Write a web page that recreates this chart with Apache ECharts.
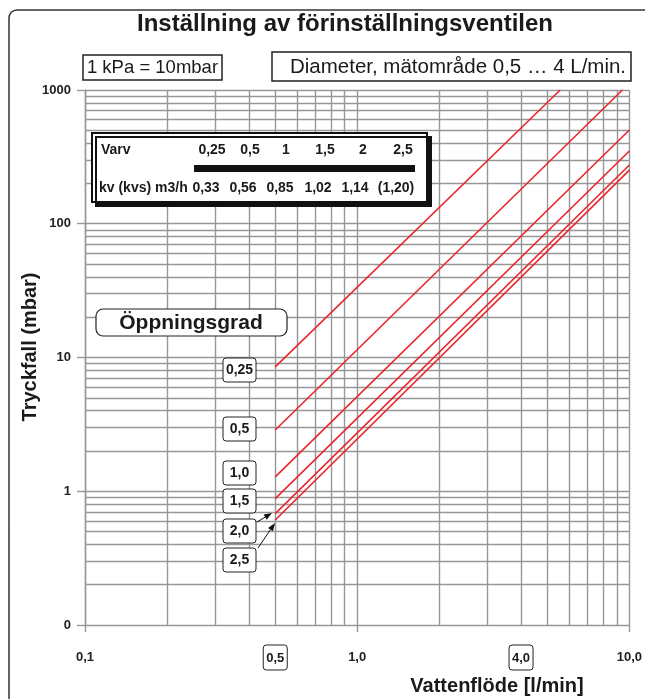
<!DOCTYPE html>
<html><head><meta charset="utf-8">
<script src="https://cdn.jsdelivr.net/npm/echarts/dist/echarts.min.js"></script>
<style>html,body{margin:0;padding:0;background:#fff}#c{width:645px;height:699px}</style>
</head><body><div id="c"></div>
<script>
// ---- data ----
const openingLabels = ['0,25', '0,5', '1,0', '1,5', '2,0', '2,5'];
const varvLabels = ['0,25', '0,5', '1', '1,5', '2', '2,5'];
const kvLabels = ['0,33', '0,56', '0,85', '1,02', '1,14', '(1,20)'];
// each curve: [flow l/min, pressure drop mbar] at start and end
const curve025 = [[0.5, 8.5], [5.57, 1000]];
const curve05 = [[0.5, 2.87], [9.43, 1000]];
const curve10 = [[0.5, 1.28], [10, 502]];
const curve15 = [[0.5, 0.88], [10, 350]];
const curve20 = [[0.5, 0.68], [10, 275]];
const curve25 = [[0.5, 0.61], [10, 252]];
const curves = [curve025, curve05, curve10, curve15, curve20, curve25];
const xTickValues = [0.1, 1, 10];
const xTickTexts = ['0,1', '1,0', '10,0'];
const yTickValues = [0.1, 1, 10, 100, 1000];
const yTickTexts = ['0', '1', '10', '100', '1000'];
const boxedFlows = [0.5, 4.0];
const boxedFlowTexts = ['0,5', '4,0'];
const gridFlows = [0.1,0.2,0.3,0.4,0.5,0.6,0.7,0.8,0.9,1,2,3,4,5,6,7,8,9,10];
const gridPressures = [0.2,0.3,0.4,0.5,0.6,0.7,0.8,0.9,1,2,3,4,5,6,7,8,9,10,20,30,40,50,60,70,80,90,100,200,300,400,500,600,700,800,900,1000];

const FONT = "'Liberation Sans Narrow','Arial Narrow','Liberation Sans',Arial,sans-serif";
const GRID = '#979797';
const RED = '#e8262c';

function nearestText(v, vals, texts) {
  let best = 0, bd = Infinity;
  vals.forEach((t, i) => { const d = Math.abs(Math.log10(v) - Math.log10(t)); if (d < bd) { bd = d; best = i; } });
  return bd < 0.05 ? texts[best] : '';
}

const chart = echarts.init(document.getElementById('c'), null, {renderer: 'canvas'});

const series = curves.map((c, i) => ({
  type: 'line', name: openingLabels[i], data: c, showSymbol: false, silent: true, z: 5,
  lineStyle: {color: RED, width: 1.6}, itemStyle: {color: RED}
}));
series.push({
  type: 'line', data: [], silent: true, z: 1,
  markLine: {
    silent: true, symbol: 'none', animation: false,
    label: {show: false},
    lineStyle: {color: GRID, width: 1.4, type: 'solid'},
    data: gridFlows.map(v => ({xAxis: v})).concat(gridPressures.map(v => ({yAxis: v})))
  }
});

chart.setOption({
  animation: false,
  backgroundColor: '#fff',
  grid: {left: 85, right: 15, top: 90, bottom: 74},
  xAxis: {
    type: 'log', min: 0.1, max: 10, logBase: 10,
    axisLine: {show: true, lineStyle: {color: GRID, width: 1.4}},
    axisTick: {show: true, length: 7, customValues: xTickValues, lineStyle: {color: GRID, width: 1.4}},
    splitLine: {show: false},
    minorSplitLine: {show: false}, minorTick: {show: false},
    axisLabel: {margin: 26, customValues: xTickValues, fontFamily: FONT, fontWeight: 'bold', fontSize: 13, color: '#222',
      formatter: v => nearestText(v, xTickValues, xTickTexts)}
  },
  yAxis: {
    type: 'log', min: 0.1, max: 1000, logBase: 10,
    axisLine: {show: true, lineStyle: {color: GRID, width: 1.4}},
    axisTick: {show: true, length: 8, customValues: yTickValues, lineStyle: {color: GRID, width: 1.4}},
    splitLine: {show: false},
    minorSplitLine: {show: false}, minorTick: {show: false},
    axisLabel: {margin: 14, customValues: yTickValues, fontFamily: FONT, fontWeight: 'bold', fontSize: 13, color: '#222',
      formatter: v => nearestText(v, yTickValues, yTickTexts)}
  },
  series: series
});

// ---- annotations ----
const g = [];
function txt(x, y, text, size, weight, align, extra) {
  return Object.assign({type: 'text', z: 120, style: {x: x, y: y, text: text,
    font: (weight || 'normal') + ' ' + size + 'px ' + FONT, fill: '#1a1a1a',
    textAlign: align || 'center', textVerticalAlign: 'middle'}}, extra || {});
}
function box(x, y, w, h, r, lw, extraStyle) {
  return {type: 'rect', z: 110, shape: {x: x, y: y, width: w, height: h, r: r},
    style: Object.assign({fill: '#fff', stroke: '#222', lineWidth: lw}, extraStyle || {})};
}
function arrow(x1, y1, x2, y2) {
  const a = Math.atan2(y2 - y1, x2 - x1), L = 8, W = 3;
  const bx = x2 - L * Math.cos(a), by = y2 - L * Math.sin(a);
  return [
    {type: 'line', z: 115, shape: {x1: x1, y1: y1, x2: bx, y2: by}, style: {stroke: '#111', lineWidth: 1}},
    {type: 'polygon', z: 115, shape: {points: [[x2, y2], [bx - W * Math.sin(a), by + W * Math.cos(a)], [bx + W * Math.sin(a), by - W * Math.cos(a)]]}, style: {fill: '#111'}}
  ];
}

// outer frame
g.push({type: 'rect', z: 100, shape: {x: 9, y: 10, width: 680, height: 740, r: 8}, style: {fill: null, stroke: '#333', lineWidth: 1.5}});
// title
g.push(txt(345, 24, 'Inställning av förinställningsventilen', 24, 'bold'));
// top boxes
g.push(box(83, 55, 139, 25, 0, 1.5));
g.push(txt(152.5, 68, '1 kPa = 10mbar', 18.5, 'normal'));
g.push(box(272, 52, 359, 29, 0, 1.5));
g.push(txt(458, 67, 'Diameter, mätområde 0,5 … 4 L/min.', 20.5, 'normal'));
// table
g.push(box(92, 133, 335, 69, 0, 2, {stroke: '#111', shadowColor: '#111', shadowOffsetX: 4, shadowOffsetY: 4, shadowBlur: 0}));
g.push(txt(101, 150, 'Varv', 14, 'bold', 'left'));
g.push(txt(99, 188, 'kv (kvs) m3/h', 14, 'bold', 'left'));
const varvX = [212, 250, 286, 325, 363, 403];
const kvX = [206, 243, 280, 318, 355, 396];
varvLabels.forEach((t, i) => g.push(txt(varvX[i], 150, t, 14, 'bold')));
kvLabels.forEach((t, i) => g.push(txt(kvX[i], 188, t, 14, 'bold')));
g.push({type: 'rect', z: 115, shape: {x: 194, y: 165, width: 221, height: 7}, style: {fill: '#111'}});
// Öppningsgrad
g.push(box(96, 309, 191, 27, 7, 1.2));
g.push(txt(191, 323, 'Öppningsgrad', 21, 'bold'));
const openTop = [358, 417, 461, 489, 519, 548];
openingLabels.forEach((t, i) => {
  g.push(box(223, openTop[i], 33, 24, 3, 1));
  g.push(txt(239.5, openTop[i] + 12, t, 14, 'bold'));
});
arrow(257, 522, 272, 513).forEach(e => g.push(e));
arrow(258, 548, 275, 523).forEach(e => g.push(e));
// boxed x values
boxedFlows.forEach((f, i) => {
  const px = chart.convertToPixel({xAxisIndex: 0}, f);
  g.push(box(px - 12, 645, 24, 25, 3, 1));
  g.push(txt(px, 658, boxedFlowTexts[i], 13, 'bold'));
});
// axis titles
g.push({type: 'text', z: 120, rotation: Math.PI / 2, x: 30, y: 347,
  style: {x: 0, y: 0, text: 'Tryckfall (mbar)', font: 'bold 20px ' + FONT, fill: '#1a1a1a', textAlign: 'center', textVerticalAlign: 'middle'}});
g.push(txt(497, 686, 'Vattenflöde [l/min]', 20, 'bold'));

chart.setOption({graphic: {elements: g}});
</script></body></html>
